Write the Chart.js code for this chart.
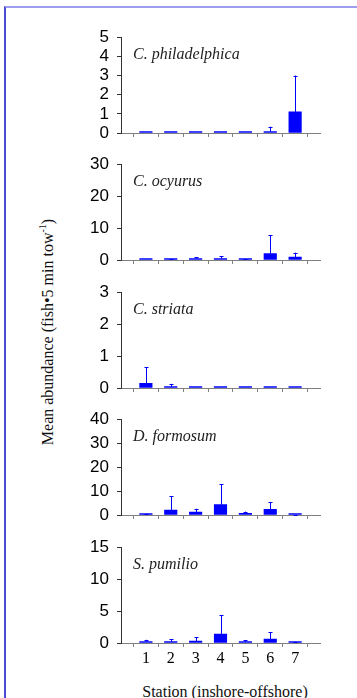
<!DOCTYPE html>
<html>
<head>
<meta charset="utf-8">
<script src="https://cdn.jsdelivr.net/npm/chart.js@4/dist/chart.umd.min.js"></script>
<style>
  html, body { margin: 0; padding: 0; background: #fff; overflow: hidden; }
  #page { position: relative; width: 357px; height: 698px; }
  #frame {
    position: absolute; left: 4px; top: 6px; width: 400px; height: 720px;
    border-top: 2px solid #9c9cf0; border-left: 2px solid #4a4ad8;
  }
  canvas { position: absolute; left: 0; }
  .sp {
    position: absolute; left: 133px; font: italic 16px 'Liberation Serif', serif;
    color: #222; line-height: 16px; white-space: nowrap;
  }
  #ytitle {
    position: absolute; left: 47px; top: 332px; white-space: nowrap;
    font: 16px 'Liberation Serif', serif; color: #111;
    transform: translate(-50%, -50%) rotate(-90deg);
  }
  #ytitle sup { font-size: 10px; }
  #xtitle {
    position: absolute; left: 225px; top: 692px; white-space: nowrap;
    font: 16px 'Liberation Serif', serif; color: #111;
    transform: translate(-50%, -50%);
  }
</style>
</head>
<body>
<div id="page">
  <div id="frame"></div>
  <div id="ytitle">Mean abundance (fish•5 min tow<sup>-1</sup>)</div>
  <div id="xtitle">Station (inshore-offshore)</div>
</div>
<script>
// stations along the x axis
const stations = [1, 2, 3, 4, 5, 6, 7];

// species panels, top to bottom
const species = ['C. philadelphica', 'C. ocyurus', 'C. striata', 'D. formosum', 'S. pumilio'];

// mean abundance per station
const philMean = [0.02, 0.02, 0.02, 0.02, 0.02, 0.08, 1.1];
const ocyMean = [0.1, 0.1, 0.4, 0.4, 0.2, 2.0, 0.9];
const striMean = [0.15, 0.03, 0.01, 0.01, 0.01, 0.01, 0.01];
const formMean = [0.2, 2.1, 1.2, 4.3, 0.7, 2.4, 0.05];
const pumMean = [0.2, 0.2, 0.3, 1.4, 0.15, 0.6, 0.05];

// top of the error whisker (mean + error)
const philErr = [0, 0, 0, 0, 0, 0.33, 3.0];
const ocyErr = [0.1, 0.2, 0.8, 1.1, 0.3, 7.7, 2.3];
const striErr = [0.66, 0.13, 0, 0, 0, 0, 0];
const formErr = [0.5, 7.8, 2.6, 12.8, 1.4, 5.4, 0.1];
const pumErr = [0.5, 0.6, 0.9, 4.4, 0.4, 1.65, 0.1];

// y axis ranges
const yMax = [5, 30, 3, 40, 15];
const yStep = [1, 10, 1, 10, 5];

const means = [philMean, ocyMean, striMean, formMean, pumMean];
const errs = [philErr, ocyErr, striErr, formErr, pumErr];

const panelTop = [31, 158, 286, 413, 541];
const plotH = 102;
const padTop = 12;
const xAxisH = 25;

const errBars = {
  id: 'errBars',
  afterDatasetsDraw(chart, args, opts) {
    const ctx = chart.ctx;
    const xs = chart.scales.x;
    const ys = chart.scales.y;
    ctx.save();
    ctx.strokeStyle = '#0000ff';
    ctx.lineWidth = 1;
    opts.values.forEach((v, i) => {
      const m = chart.data.datasets[0].data[i].y;
      if (!(v > m)) return;
      const x = Math.round(xs.getPixelForValue(stations[i])) + 0.5;
      const y0 = ys.getPixelForValue(m);
      const y1 = ys.getPixelForValue(v);
      ctx.beginPath();
      ctx.moveTo(x, y0);
      ctx.lineTo(x, y1);
      ctx.moveTo(x - 2, Math.round(y1) + 0.5);
      ctx.lineTo(x + 2, Math.round(y1) + 0.5);
      ctx.stroke();
    });
    ctx.restore();
  },
};

const page = document.getElementById('page');

species.forEach((name, p) => {
  const cv = document.createElement('canvas');
  const h = padTop + plotH + xAxisH;
  cv.width = 357;
  cv.height = h;
  cv.style.top = (panelTop[p] - padTop) + 'px';
  page.appendChild(cv);

  const lab = document.createElement('div');
  lab.className = 'sp';
  lab.style.top = (panelTop[p] + 15) + 'px';
  lab.textContent = name;
  page.appendChild(lab);

  const last = p === species.length - 1;

  new Chart(cv, {
    type: 'bar',
    data: {
      datasets: [{
        data: stations.map((s, i) => ({x: s, y: means[p][i]})),
        backgroundColor: '#0000ff',
        barThickness: 12.5,
        minBarLength: 1.5,
      }],
    },
    options: {
      responsive: false,
      animation: false,
      events: [],
      layout: {padding: {left: 0, right: 37, top: padTop, bottom: 0}},
      plugins: {
        legend: {display: false},
        tooltip: {enabled: false},
        errBars: {values: errs[p]},
      },
      scales: {
        x: {
          type: 'linear',
          min: 0,
          max: 8,
          offset: false,
          afterFit: (s) => {
            s.height = xAxisH;
          },
          border: {color: '#808080', width: 1},
          grid: {drawOnChartArea: false, drawTicks: true, tickLength: 4, color: '#808080'},
          ticks: {
            stepSize: 1,
            autoSkip: false,
            maxRotation: 0,
            padding: 2,
            color: '#000',
            font: {family: 'Liberation Serif', size: 16},
            callback: (v) => (last && v >= 1 && v <= 7) ? String(v) : '',
          },
        },
        y: {
          min: 0,
          max: yMax[p],
          afterFit: (s) => {
            s.width = 121;
          },
          border: {color: '#333', width: 1},
          grid: {drawOnChartArea: false, drawTicks: true, tickLength: 4, color: '#333'},
          ticks: {
            stepSize: yStep[p],
            autoSkip: false,
            padding: 8,
            color: '#000',
            font: {family: 'Liberation Sans', size: 17},
          },
        },
      },
    },
    plugins: [errBars],
  });
});
</script>
</body>
</html>
